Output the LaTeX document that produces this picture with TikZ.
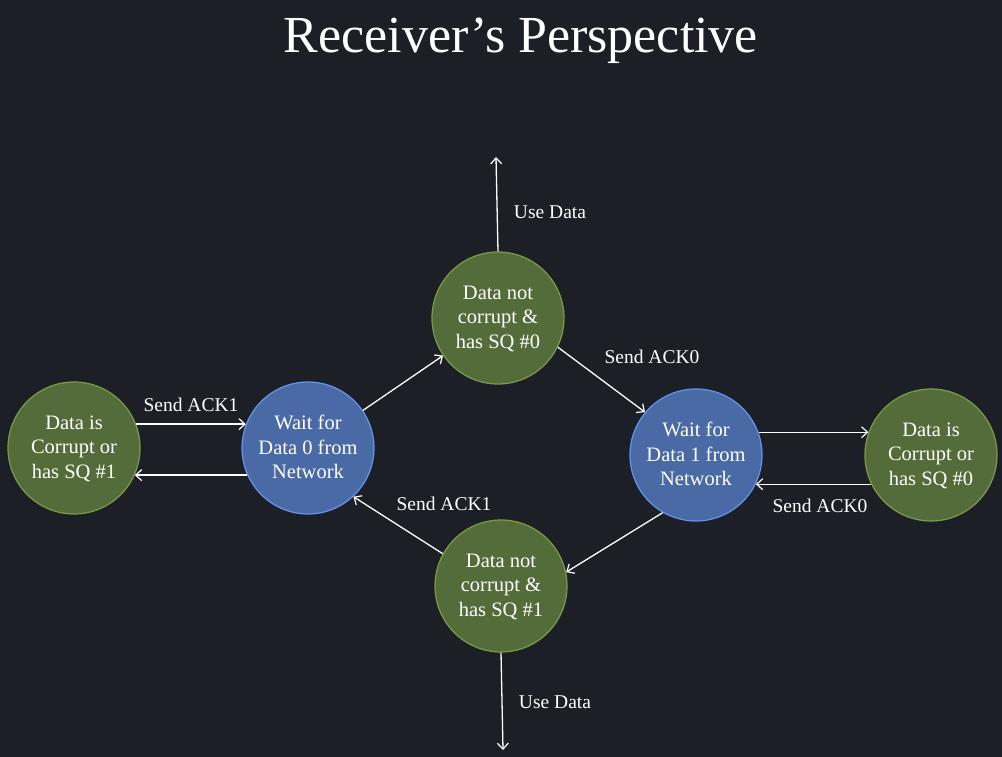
\documentclass[tikz,border=0pt]{standalone}
\usepackage{fontspec}
\setmainfont{Liberation Serif}
\usetikzlibrary{arrows.meta}
\definecolor{bgdark}{RGB}{28,31,38}
\definecolor{stategreen}{RGB}{84,108,58}
\definecolor{stategreenedge}{RGB}{122,156,72}
\definecolor{stateblue}{RGB}{74,106,166}
\definecolor{stateblueedge}{RGB}{98,148,238}
\begin{document}
\begin{tikzpicture}[x=1pt,y=-1pt,
  state/.style={circle,minimum size=132pt,inner sep=0pt,line width=1.2pt,
    text=white,align=center,font=\fontsize{20.5}{24.5}\selectfont,text depth=2pt},
  checkstate/.style={state,fill=stategreen,draw=stategreenedge},
  waitstate/.style={state,fill=stateblue,draw=stateblueedge},
  flow/.style={draw=white,line width=1.3pt,-{Straight Barb[length=6pt,width=11pt,line width=1.2pt]}},
  lbl/.style={text=white,font=\fontsize{19.5}{22}\selectfont,inner sep=0pt}]
  % background and frame
  \fill[bgdark] (0,0) rectangle (1002,757);
  \useasboundingbox (0,0) rectangle (1002,757);

  \node[text=white,font=\fontsize{52}{58}\selectfont] (title) at (521,41) {Receiver’s Perspective};

  % states
  \node[checkstate] (gl) at (74,448) {Data is\\Corrupt or\\has SQ \#1};
  \node[waitstate]  (wl) at (308,448) {Wait for\\Data 0 from\\Network};
  \node[checkstate] (tg) at (498,318) {Data not\\corrupt \&\\has SQ \#0};
  \node[waitstate]  (wr) at (696,455) {Wait for\\Data 1 from\\Network};
  \node[checkstate] (gr) at (931,455) {Data is\\Corrupt or\\has SQ \#0};
  \node[checkstate] (bg) at (501,586) {Data not\\corrupt \&\\has SQ \#1};

  \coordinate (upout) at (496,157);
  \coordinate (downout) at (503,750);

  % transitions
  \draw[flow] (gl.21) -- (wl.159);
  \draw[flow] (wl.204) -- (gl.-24);
  \draw[flow] (wl) -- (tg);
  \draw[flow] (tg.north) -- (upout);
  \draw[flow] (tg.-26) -- (wr.140);
  \draw[flow] (wr.20) -- (gr.160);
  \draw[flow] (gr.206) -- (wr.-26);
  \draw[flow] (wr.240) -- (bg.12);
  \draw[flow] (bg.151) -- (wl.-47);
  \draw[flow] (bg.south) -- (downout);

  % labels
  \node[lbl] (l1) at (191,405) {Send ACK1};
  \node[lbl] (l2) at (550,212) {Use Data};
  \node[lbl] (l3) at (652,357) {Send ACK0};
  \node[lbl] (l4) at (820,506) {Send ACK0};
  \node[lbl] (l5) at (444,504) {Send ACK1};
  \node[lbl] (l6) at (555,702) {Use Data};
\end{tikzpicture}
\end{document}
